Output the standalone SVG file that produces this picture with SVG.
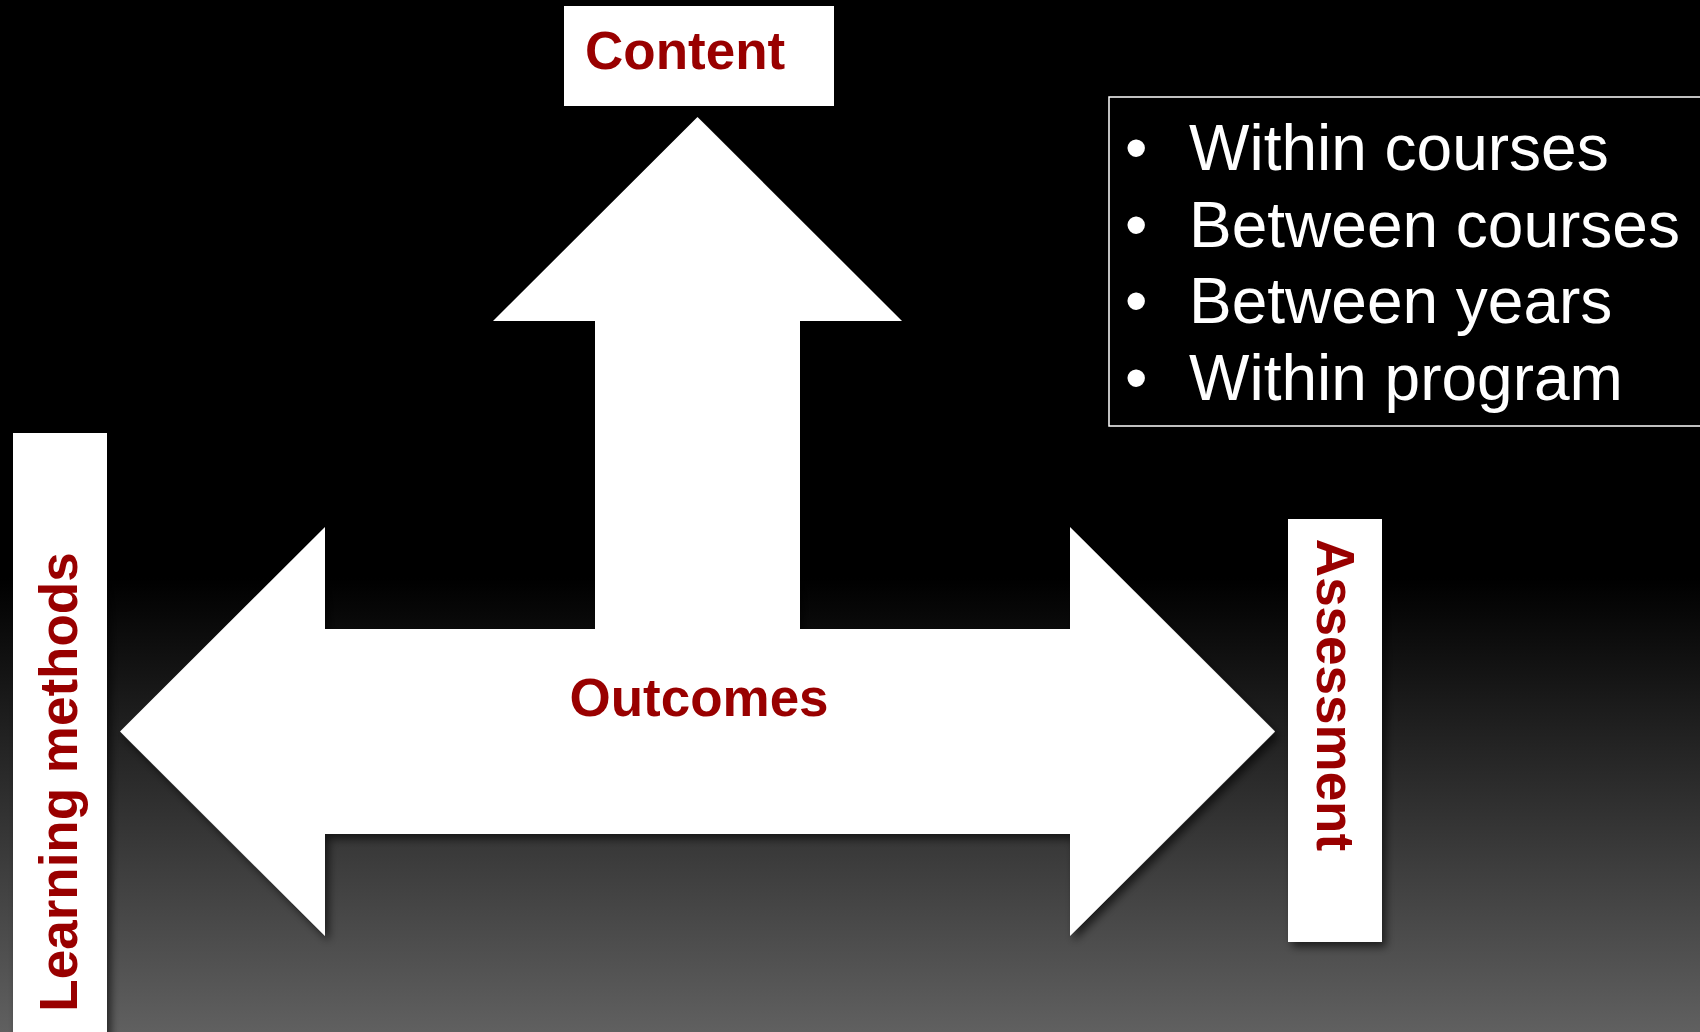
<svg xmlns="http://www.w3.org/2000/svg" width="1700" height="1032" viewBox="0 0 1700 1032">
<defs>
<linearGradient id="bg" x1="0" y1="0" x2="0" y2="1">
<stop offset="0" stop-color="#000"/>
<stop offset="0.56" stop-color="#000"/>
<stop offset="1" stop-color="#606060"/>
</linearGradient>
<filter id="sh" x="-10%" y="-10%" width="130%" height="130%">
<feDropShadow dx="4" dy="5" stdDeviation="4" flood-color="#000" flood-opacity="0.6"/>
</filter>
</defs>
<style>
.lbl{font-family:"Liberation Sans",Arial,sans-serif;font-weight:bold;font-size:53px;fill:#990000}
.box{fill:#fff;filter:url(#sh)}
.bul{font-family:"Liberation Sans",Arial,sans-serif;font-size:64px;fill:#fff}
</style>
<rect width="1700" height="1032" fill="url(#bg)"/>
<g id="connectors">
<path class="box" d="M697.5 117 L902 321 L800 321 L800 629 L1070 629 L1070 527 L1275 731.5 L1070 936 L1070 834 L325 834 L325 936 L120 731.5 L325 527 L325 629 L595 629 L595 321 L493 321 Z"/>
</g>
<g id="outcomes">
<text class="lbl" x="699" y="716" text-anchor="middle">Outcomes</text>
</g>
<g id="content">
<rect class="box" x="564" y="6" width="270" height="100"/>
<text class="lbl" x="585" y="69">Content</text>
</g>
<g id="learning-methods">
<rect class="box" x="13" y="433" width="94" height="610"/>
<text class="lbl" transform="translate(77 782) rotate(-90)" text-anchor="middle">Learning methods</text>
</g>
<g id="assessment">
<rect class="box" x="1288" y="519" width="94" height="423"/>
<text class="lbl" transform="translate(1317 695) rotate(90)" text-anchor="middle">Assessment</text>
</g>
<g id="levels">
<rect x="1109" y="97" width="600" height="329" fill="none" stroke="#fff" stroke-width="1.5"/>
<text class="bul" x="1125" y="170">•</text>
<text class="bul" x="1189" y="170">Within courses</text>
<text class="bul" x="1125" y="247">•</text>
<text class="bul" x="1189" y="247">Between courses</text>
<text class="bul" x="1125" y="323">•</text>
<text class="bul" x="1189" y="323">Between years</text>
<text class="bul" x="1125" y="400">•</text>
<text class="bul" x="1189" y="400">Within program</text>
</g>
</svg>
